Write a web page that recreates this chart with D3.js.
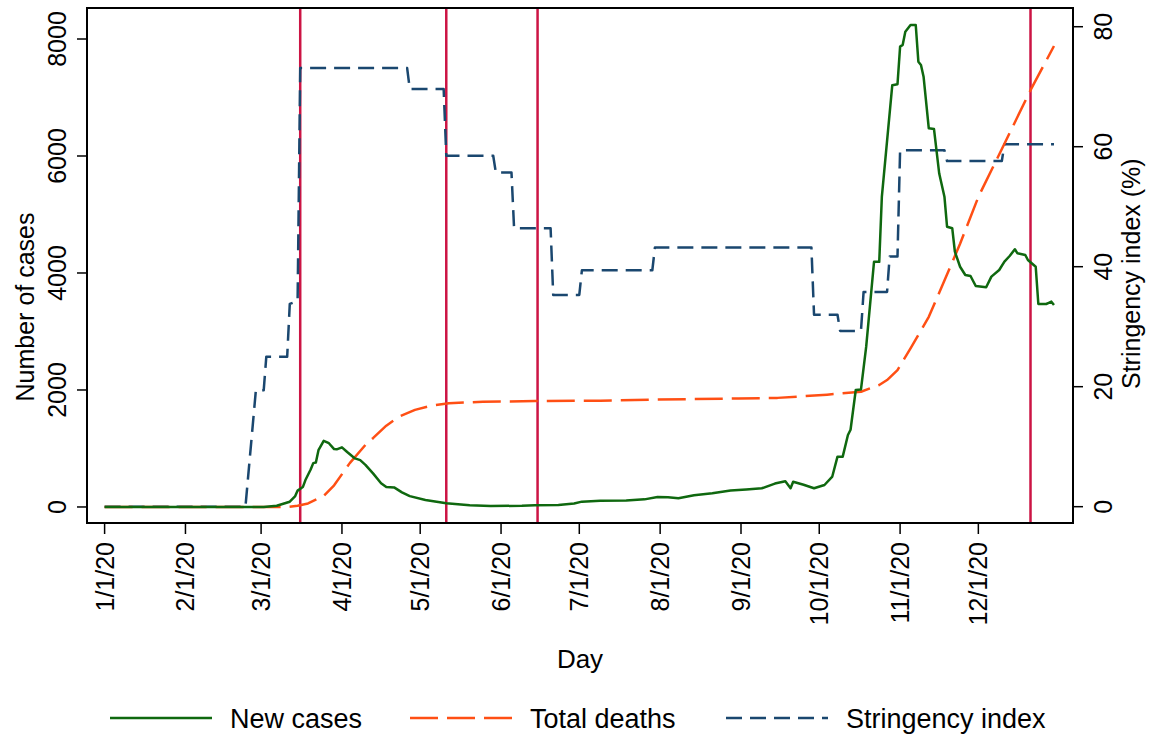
<!DOCTYPE html>
<html>
<head>
<meta charset="utf-8">
<script src="https://cdn.jsdelivr.net/npm/d3@7"></script>
<style>
    body { margin: 0; background: #fff; }
    svg { display: block; font-family: "Liberation Sans", Arial, sans-serif; }
</style>
</head>
<body>
<div id="chart"></div>
<script>
// days are counted from 1 Jan 2020 (day 0)
const caseDay = [0, 61, 66, 71, 73, 74, 76, 77, 79, 80, 81, 82, 84, 86, 88, 89, 91, 93, 96, 98,
    100, 103, 106, 108, 111, 114, 117, 123, 131, 140, 148, 160, 165, 174, 180, 183, 190, 200, 207, 212,
    216, 220, 226, 233, 240, 246, 252, 257, 261, 263, 264, 268, 272, 276, 279, 281, 283, 285, 286, 288,
    290, 292, 295, 297, 298, 302, 304, 305, 306, 307, 309, 311, 312, 313, 314, 316, 318, 320, 322, 323,
    325, 326, 328, 330, 332, 334, 338, 340, 343, 345, 347, 349, 350, 353, 354, 357, 358, 361, 362, 363, 364]
const caseValue = [0, 0, 20, 90, 180, 280, 340, 460, 640, 750, 760, 970, 1130, 1090, 990, 985, 1020, 940, 830, 800,
    720, 570, 405, 340, 335, 250, 185, 120, 63, 30, 17, 20, 28, 34, 60, 91, 105, 110, 130, 170,
    165, 150, 200, 235, 280, 300, 320, 400, 440, 320, 430, 380, 320, 376, 520, 860, 860, 1230, 1320, 2000,
    2010, 2740, 4190, 4190, 5300, 7210, 7226, 7870, 7900, 8125, 8239, 8239, 7612, 7556, 7356, 6473, 6461, 5700, 5304, 4791,
    4764, 4364, 4107, 3966, 3949, 3778, 3756, 3937, 4051, 4194, 4290, 4405, 4336, 4308, 4222, 4107, 3470, 3470, 3490, 3510, 3453]

const deathDay = [0, 70, 74, 78, 84, 88, 94, 100, 103, 108, 113, 119, 125, 132, 145, 165, 190, 212, 243, 258,
    277, 290, 297, 300, 304, 309, 316, 322, 328, 335, 345, 355, 364]
const deathValue = [0, 0, 20, 60, 190, 370, 750, 1060, 1180, 1390, 1545, 1660, 1730, 1772, 1800, 1810, 1817, 1837, 1855, 1865,
    1920, 1970, 2085, 2170, 2340, 2710, 3250, 3870, 4500, 5300, 6210, 7125, 7880]

const stringencyDay = [0, 54, 58, 61, 62, 70, 71, 74, 75, 116, 117, 130, 131, 149, 150, 156, 157, 171, 172, 182,
    183, 210, 211, 271, 272, 281, 282, 290, 291, 300, 301, 304, 305, 322, 323, 344, 345, 364]
const stringencyValue = [0, 0, 19.4, 19.4, 25, 25, 33.8, 34.3, 73.1, 73.1, 69.6, 69.6, 58.5, 58.5, 55.7, 55.7, 46.4, 46.4, 35.3, 35.3,
    39.4, 39.4, 43.2, 43.2, 32.0, 32.0, 29.3, 29.3, 35.8, 35.8, 41.7, 41.7, 59.4, 59.4, 57.6, 57.6, 60.4, 60.4]

// vertical marker lines
const eventDay = [75, 131, 166, 355]

const leftTicks = [0, 2000, 4000, 6000, 8000]
const rightTicks = [0, 20, 40, 60, 80]
const monthTicks = d3.timeMonths(new Date(2020, 0, 1), new Date(2020, 11, 2))

const legendLabels = ["New cases", "Total deaths", "Stringency index"]

const W = 1151, H = 736
const box = { left: 87, right: 1073, top: 8, bottom: 523 }
const green = "#0f680f", orange = "#ff4f14", navy = "#1a476f", red = "#cc1444"

const start = new Date(2020, 0, 1)
const toDate = d => d3.timeDay.offset(start, d)

const x = d3.scaleTime()
    .domain([new Date(2019, 11, 25, 6), new Date(2021, 0, 6, 7)])
    .range([box.left, box.right])
const yL = d3.scaleLinear().domain([-274, 8530]).range([box.bottom, box.top])
const yR = d3.scaleLinear().domain([-2.72, 83.12]).range([box.bottom, box.top])

const svg = d3.select("#chart").append("svg")
    .attr("width", W)
    .attr("height", H)

// event lines
svg.append("g")
    .selectAll("line")
    .data(eventDay)
    .enter()
    .append("line")
    .attr("x1", d => x(toDate(d)))
    .attr("x2", d => x(toDate(d)))
    .attr("y1", box.top)
    .attr("y2", box.bottom)
    .attr("stroke", red)
    .attr("stroke-width", 2.5)

const pts = (days, vals) => days.map((d, i) => [toDate(d), vals[i]])

const lineL = d3.line().x(d => x(d[0])).y(d => yL(d[1]))
const lineR = d3.line().x(d => x(d[0])).y(d => yR(d[1]))

const series = [
    { path: lineR(pts(stringencyDay, stringencyValue)), color: navy, dash: "16,8" },
    { path: lineL(pts(deathDay, deathValue)), color: orange, dash: "28,9" },
    { path: lineL(pts(caseDay, caseValue)), color: green, dash: null },
]

svg.append("g")
    .selectAll("path")
    .data(series)
    .enter()
    .append("path")
    .attr("d", d => d.path)
    .attr("fill", "none")
    .attr("stroke", d => d.color)
    .attr("stroke-width", 2.5)
    .attr("stroke-linejoin", "round")
    .attr("stroke-dasharray", d => d.dash)

// frame
svg.append("rect")
    .attr("x", box.left)
    .attr("y", box.top)
    .attr("width", box.right - box.left)
    .attr("height", box.bottom - box.top)
    .attr("fill", "none")
    .attr("stroke", "#000")
    .attr("stroke-width", 2)

const fs = 25

// left axis
const left = svg.append("g")
left.selectAll("line")
    .data(leftTicks)
    .enter()
    .append("line")
    .attr("x1", box.left - 10).attr("x2", box.left)
    .attr("y1", d => yL(d)).attr("y2", d => yL(d))
    .attr("stroke", "#000").attr("stroke-width", 1.5)
left.selectAll("text")
    .data(leftTicks)
    .enter()
    .append("text")
    .attr("transform", d => `translate(66,${yL(d)}) rotate(-90)`)
    .attr("text-anchor", "middle")
    .attr("font-size", fs)
    .text(d => d)
svg.append("text")
    .attr("transform", `translate(34,${(yL(0) + yL(8000)) / 2 + 34}) rotate(-90)`)
    .attr("text-anchor", "middle")
    .attr("font-size", fs)
    .text("Number of cases")

// right axis
const right = svg.append("g")
right.selectAll("line")
    .data(rightTicks)
    .enter()
    .append("line")
    .attr("x1", box.right).attr("x2", box.right + 10)
    .attr("y1", d => yR(d)).attr("y2", d => yR(d))
    .attr("stroke", "#000").attr("stroke-width", 1.5)
right.selectAll("text")
    .data(rightTicks)
    .enter()
    .append("text")
    .attr("transform", d => `translate(1112,${yR(d)}) rotate(-90)`)
    .attr("text-anchor", "middle")
    .attr("font-size", fs)
    .text(d => d)
svg.append("text")
    .attr("transform", `translate(1140,${(yR(0) + yR(80)) / 2 + 7}) rotate(-90)`)
    .attr("text-anchor", "middle")
    .attr("font-size", fs)
    .text("Stringency index (%)")

// x axis
const fmt = d3.timeFormat("%-m/%-d/%y")
const bottom = svg.append("g")
bottom.selectAll("line")
    .data(monthTicks)
    .enter()
    .append("line")
    .attr("x1", d => x(d)).attr("x2", d => x(d))
    .attr("y1", box.bottom).attr("y2", box.bottom + 11)
    .attr("stroke", "#000").attr("stroke-width", 1.5)
bottom.selectAll("text")
    .data(monthTicks)
    .enter()
    .append("text")
    .attr("transform", d => `translate(${x(d) + 9},542) rotate(-90)`)
    .attr("text-anchor", "end")
    .attr("font-size", fs)
    .text(d => fmt(d))
svg.append("text")
    .attr("x", 580)
    .attr("y", 668)
    .attr("text-anchor", "middle")
    .attr("font-size", 26)
    .text("Day")

// legend
const legX = [110, 410, 726]
const leg = svg.append("g")
    .selectAll("g")
    .data(series.slice().reverse())
    .enter()
    .append("g")
    .attr("transform", (d, i) => `translate(${legX[i]},718)`)
leg.append("line")
    .attr("x1", 0).attr("x2", 102)
    .attr("stroke", d => d.color)
    .attr("stroke-width", 2.5)
    .attr("stroke-dasharray", d => d.dash)
leg.append("text")
    .attr("x", 120)
    .attr("y", 10)
    .attr("font-size", 27)
    .text((d, i) => legendLabels[i])
</script>
</body>
</html>
